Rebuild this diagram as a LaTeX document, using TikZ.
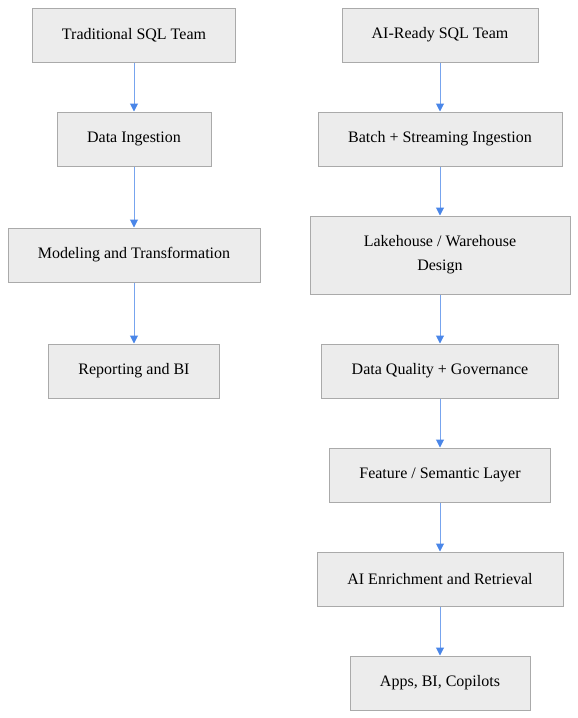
\documentclass[tikz,border=0pt]{standalone}
\usepackage{fontspec}
\setmainfont{Liberation Serif}
\usepackage{tikz}
\usetikzlibrary{arrows.meta}
\definecolor{boxfill}{HTML}{ECECEC}
\definecolor{boxline}{HTML}{AAAAAA}
\definecolor{flowblue}{HTML}{4A86E8}
\tikzset{
	stage/.style={draw=boxline, fill=boxfill, line width=0.75pt, inner sep=0pt,
		minimum height=40.5pt, align=center, font=\fontsize{12}{18}\selectfont},
	flow/.style={draw=flowblue!75, line width=0.75pt,
		-{Triangle[length=6pt,width=6pt,color=flowblue]}}
}
\begin{document}
\begin{tikzpicture}[x=0.75pt,y=-0.75pt]
			\useasboundingbox (0,0) rectangle (578,718);
			% traditional team
			\node[stage, minimum width=152.25pt] (t1) at (134,35) {Traditional SQL Team};
			\node[stage, minimum width=115.5pt] (t2) at (134,139) {Data Ingestion};
			\node[stage, minimum width=189pt] (t3) at (134,255) {Modeling and Transformation};
			\node[stage, minimum width=128.25pt] (t4) at (134,371) {Reporting and BI};
			% ai-ready team
			\node[stage, minimum width=147pt] (a1) at (440,35) {AI-Ready SQL Team};
			\node[stage, minimum width=183pt] (a2) at (440,139) {Batch + Streaming Ingestion};
			\node[stage, minimum width=195pt, minimum height=58.5pt] (a3) at (440,255) {Lakehouse / Warehouse\\Design};
			\node[stage, minimum width=177.75pt] (a4) at (440,371) {Data Quality + Governance};
			\node[stage, minimum width=165.75pt] (a5) at (440,475) {Feature / Semantic Layer};
			\node[stage, minimum width=184.5pt] (a6) at (440,579) {AI Enrichment and Retrieval};
			\node[stage, minimum width=135pt] (a7) at (440,683) {Apps, BI, Copilots};
			
			\path[flow]
			(t1) edge (t2)
			(t2) edge (t3)
			(t3) edge (t4);
			
			\path[flow]
			(a1) edge (a2)
			(a2) edge (a3)
			(a3) edge (a4)
			(a4) edge (a5)
			(a5) edge (a6)
			(a6) edge (a7);
		\end{tikzpicture}
\end{document}
